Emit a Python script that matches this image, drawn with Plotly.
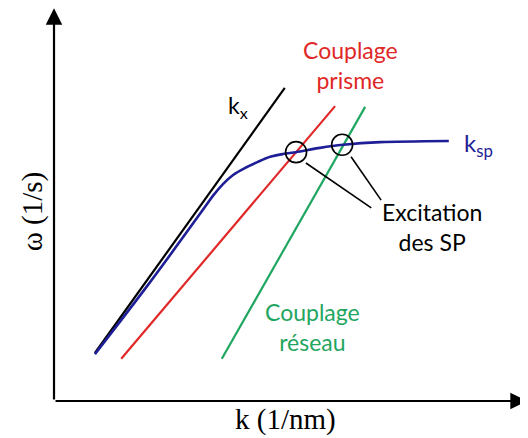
import plotly.graph_objects as go

# schematic units: k along x, omega along y (axes cross at 0, 0)
kx_k = [0.87, 4.91]
kx_w = [1.24, 8.09]

prisme_k = [1.43, 5.98]
prisme_w = [1.09, 7.62]

reseau_k = [3.57, 6.62]
reseau_w = [1.09, 7.60]

ksp_k = [0.87, 2.00, 3.21, 3.38, 3.60, 3.81, 4.06, 4.34, 4.60, 4.87, 5.15, 5.66, 6.15, 6.94, 8.40]
ksp_w = [1.21, 3.00, 5.01, 5.30, 5.61, 5.84, 6.02, 6.18, 6.31, 6.38, 6.43, 6.54, 6.62, 6.69, 6.72]

# intersections (excitation points)
exc_k = [5.15, 6.13]
exc_w = [6.43, 6.62]

# pointer lines from the label to each circle: (k0, w0, k1, w1)
pointers = [(5.36, 6.15, 6.75, 4.99), (6.32, 6.31, 6.96, 5.19)]

k_max = 10.06
w_max = 10.15

RED = "#e02828"
GREEN = "#1fa660"
BLUE = "#1e1e96"

fig = go.Figure()

fig.add_trace(go.Scatter(x=kx_k, y=kx_w, mode="lines",
                         line=dict(color="black", width=2.2)))
fig.add_trace(go.Scatter(x=prisme_k, y=prisme_w, mode="lines",
                         line=dict(color=RED, width=2.2)))
fig.add_trace(go.Scatter(x=reseau_k, y=reseau_w, mode="lines",
                         line=dict(color=GREEN, width=2.2)))
fig.add_trace(go.Scatter(x=ksp_k, y=ksp_w, mode="lines",
                         line=dict(color=BLUE, width=2.6, shape="spline", smoothing=0.8)))

for k0, w0, k1, w1 in pointers:
    fig.add_trace(go.Scatter(x=[k0, k1], y=[w0, w1], mode="lines",
                             line=dict(color="black", width=1.6)))

fig.add_trace(go.Scatter(x=exc_k, y=exc_w, mode="markers",
                         marker=dict(symbol="circle-open", size=21,
                                     color="black", line=dict(width=1.6))))

# axes drawn as arrows
for tip in [(k_max, 0), (0, w_max)]:
    fig.add_annotation(x=tip[0], y=tip[1], ax=0, ay=0, axref="x", ayref="y",
                       xref="x", yref="y", text="", showarrow=True,
                       arrowhead=2, arrowsize=1.5, arrowwidth=2.2,
                       arrowcolor="black")

sans = "Lato"
fig.add_annotation(x=3.92, y=7.60, text="k<sub>x</sub>", showarrow=False,
                   font=dict(family=sans, size=23, color="black"))
fig.add_annotation(x=9.04, y=6.62, text="k<sub>sp</sub>", showarrow=False,
                   font=dict(family=sans, size=24, color=BLUE))
fig.add_annotation(x=6.30, y=8.68, text="Couplage<br>prisme", showarrow=False,
                   font=dict(family=sans, size=23, color=RED))
fig.add_annotation(x=5.49, y=1.91, text="Couplage<br>réseau", showarrow=False,
                   font=dict(family=sans, size=23, color=GREEN))
fig.add_annotation(x=8.04, y=4.50, text="Excitation<br>des SP", showarrow=False,
                   font=dict(family=sans, size=23, color="black"))

serif = "Liberation Serif"
fig.add_annotation(x=4.92, y=-0.49, text="k (1/nm)", showarrow=False,
                   font=dict(family=serif, size=29, color="black"))
fig.add_annotation(x=-0.44, y=4.91, text="ω (1/s)", showarrow=False, textangle=-90,
                   font=dict(family=serif, size=29, color="black"))

# the page body adds an 8 px margin, so the figure is 8 px smaller each way
fig.update_layout(
    width=520, height=430,
    margin=dict(l=0, r=0, t=0, b=0),
    showlegend=False,
    paper_bgcolor="white",
    plot_bgcolor="white",
)
fig.update_xaxes(range=[-0.979, 10.085], visible=False)
fig.update_yaxes(range=[-0.956, 10.155], visible=False)

fig.write_html("out.html")
